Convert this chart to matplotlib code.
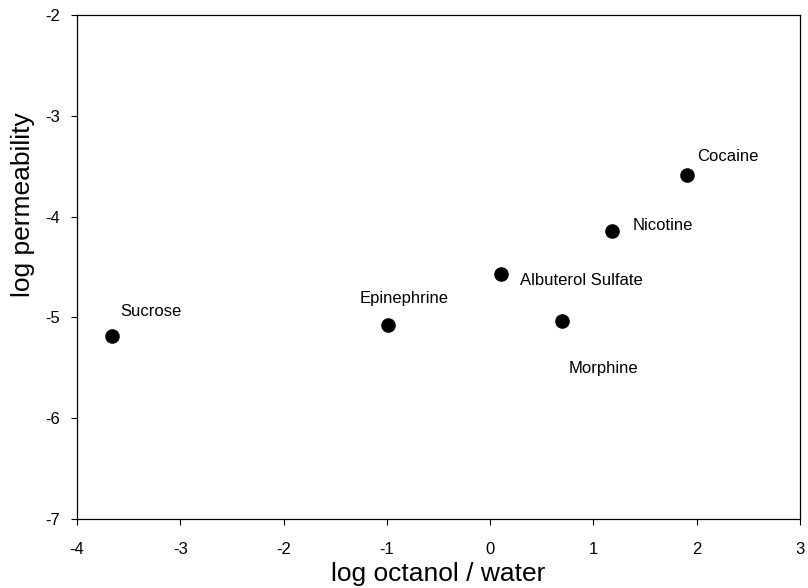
import matplotlib
matplotlib.use('Agg')
import matplotlib.pyplot as plt

plt.rcParams['font.family'] = ['Liberation Sans', 'DejaVu Sans']
plt.rcParams['axes.unicode_minus'] = False

# drug data
drugs = ['Sucrose', 'Epinephrine', 'Albuterol Sulfate', 'Morphine', 'Nicotine', 'Cocaine']
log_octanol_water = [-3.66, -0.99, 0.11, 0.70, 1.18, 1.91]
log_permeability = [-5.18, -5.08, -4.57, -5.04, -4.14, -3.59]

x_ticks = [-4, -3, -2, -1, 0, 1, 2, 3]
y_ticks = [-7, -6, -5, -4, -3, -2]

# label offsets in points (dx, dy) relative to each dot
label_offsets = [(5.8, 17.3), (-20, 19.4), (13.7, -4.3), (4.3, -34), (15, 3.6), (7.2, 13.7)]

fig = plt.figure(figsize=(8.08, 5.88), dpi=100)
ax = fig.add_axes([0.0953, 0.1173, 0.8947, 0.8572])

ax.scatter(log_octanol_water, log_permeability, s=90, color='black', zorder=3)

for name, x, y, off in zip(drugs, log_octanol_water, log_permeability, label_offsets):
    ax.annotate(name, (x, y), xytext=off, textcoords='offset points',
                ha='left', va='center', fontsize=12)

ax.set_xlim(-4, 3)
ax.set_ylim(-7, -2)
ax.set_xticks(x_ticks)
ax.set_yticks(y_ticks)
ax.tick_params(direction='out', length=4.5, width=0.8, labelsize=12)
ax.tick_params(axis='x', pad=12)
ax.tick_params(axis='y', pad=8)

for sp in ax.spines.values():
    sp.set_linewidth(0.9)

ax.set_xlabel('log octanol / water', fontsize=19)
ax.set_ylabel('log permeability', fontsize=19)
ax.xaxis.set_label_coords(0.5, -0.085)
ax.yaxis.set_label_coords(-0.058, 0.623)
ax.xaxis.label.set_va('top')

fig.savefig('out.png', dpi=100)
